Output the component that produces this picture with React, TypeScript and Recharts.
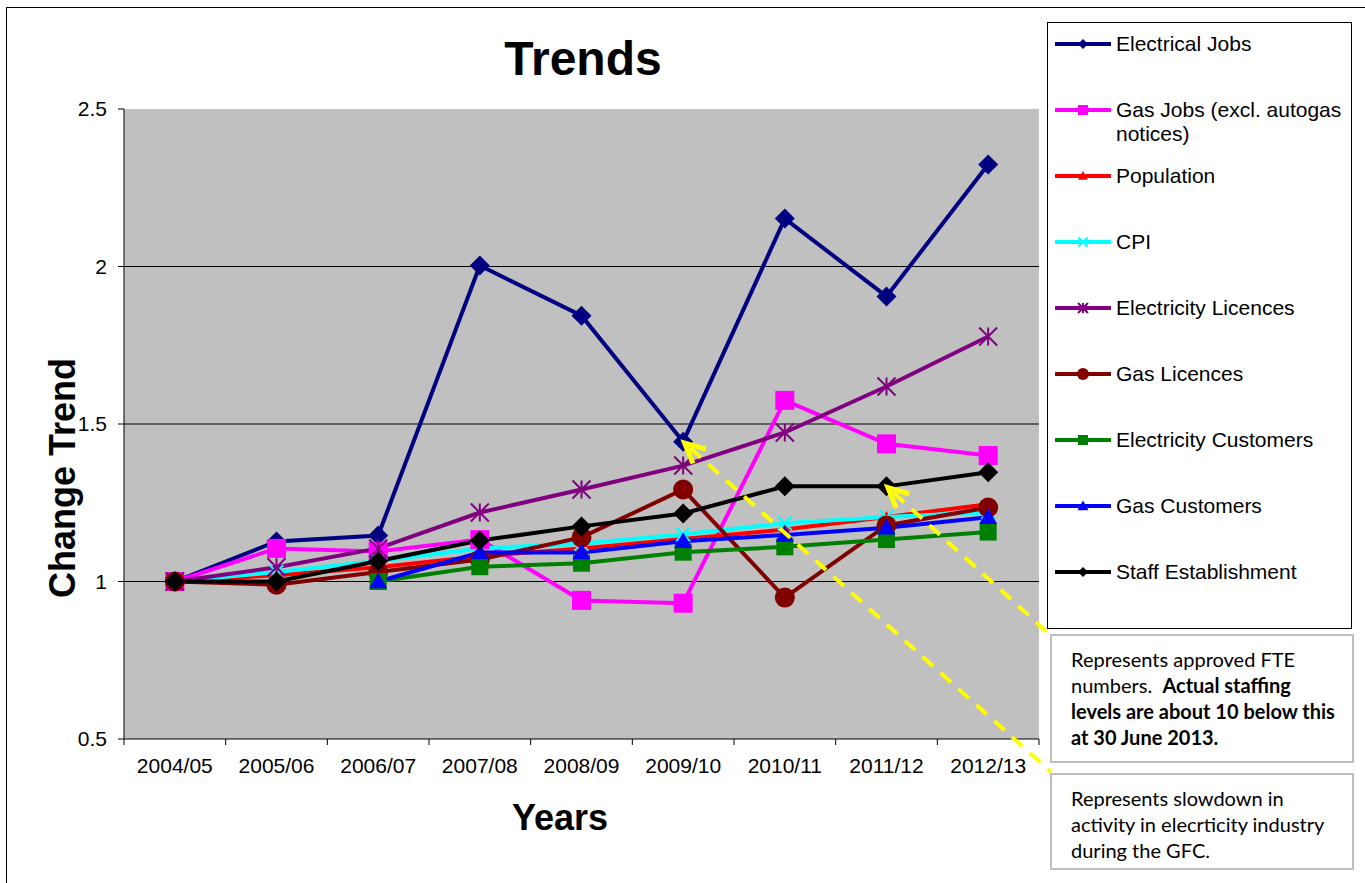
import React from "react";
import { LineChart, Line, XAxis, YAxis, CartesianGrid, ReferenceDot } from "recharts";

// categories and series (index relative to 2004/05 = 1)
const years = ["2004/05", "2005/06", "2006/07", "2007/08", "2008/09", "2009/10", "2010/11", "2011/12", "2012/13"];
const electricalJobs = [1.0, 1.127, 1.146, 2.003, 1.844, 1.444, 2.152, 1.905, 2.324];
const gasJobs = [1.0, 1.105, 1.095, 1.133, 0.94, 0.931, 1.575, 1.437, 1.4];
const population = [1.0, 1.02, 1.045, 1.08, 1.105, 1.135, 1.165, 1.205, 1.245];
const cpi = [1.0, 1.03, 1.065, 1.105, 1.12, 1.15, 1.185, 1.205, 1.22];
const electricityLicences = [1.0, 1.045, 1.105, 1.219, 1.292, 1.368, 1.473, 1.619, 1.778];
const gasLicences = [1.0, 0.99, 1.03, 1.07, 1.14, 1.292, 0.949, 1.178, 1.235];
const electricityCustomers = [null, null, 1.0, 1.047, 1.058, 1.093, 1.11, 1.133, 1.157];
const gasCustomers = [null, null, 1.0, 1.092, 1.092, 1.128, 1.148, 1.171, 1.204];
const staffEstablishment = [1.0, 1.0, 1.065, 1.13, 1.175, 1.216, 1.302, 1.302, 1.347];
const yTicks = [0.5, 1, 1.5, 2, 2.5];

type MarkerKind = "diamond" | "square" | "triangle" | "cross" | "star" | "circle";

const series: {
  key: string;
  name: string;
  values: (number | null)[];
  color: string;
  marker: MarkerKind;
  size: number;
  legendSize: number;
}[] = [
  { key: "electricalJobs", name: "Electrical Jobs", values: electricalJobs, color: "#000080", marker: "diamond", size: 20, legendSize: 10 },
  { key: "gasJobs", name: "Gas Jobs (excl. autogas notices)", values: gasJobs, color: "#FF00FF", marker: "square", size: 19, legendSize: 10 },
  { key: "population", name: "Population", values: population, color: "#FF0000", marker: "triangle", size: 12, legendSize: 10 },
  { key: "cpi", name: "CPI", values: cpi, color: "#00FFFF", marker: "cross", size: 14, legendSize: 9 },
  { key: "electricityLicences", name: "Electricity Licences", values: electricityLicences, color: "#800080", marker: "star", size: 18, legendSize: 10 },
  { key: "gasLicences", name: "Gas Licences", values: gasLicences, color: "#800000", marker: "circle", size: 20, legendSize: 12 },
  { key: "electricityCustomers", name: "Electricity Customers", values: electricityCustomers, color: "#008000", marker: "square", size: 17, legendSize: 10 },
  { key: "gasCustomers", name: "Gas Customers", values: gasCustomers, color: "#0000FF", marker: "triangle", size: 18, legendSize: 11 },
  { key: "staffEstablishment", name: "Staff Establishment", values: staffEstablishment, color: "#000000", marker: "diamond", size: 20, legendSize: 10 },
];

const data = years.map((year, i) => {
  const row: Record<string, string | number | null> = { year };
  series.forEach((s) => {
    row[s.key] = s.values[i];
  });
  return row;
});

const FONT = "'Liberation Sans', Arial, sans-serif";
const PLOT_LEFT = 124;
const PLOT_RIGHT = 1039;
const HALF_BAND = (PLOT_RIGHT - PLOT_LEFT) / years.length / 2;

function Marker({ kind, cx, cy, size, color }: { kind: MarkerKind; cx: number; cy: number; size: number; color: string }) {
  const r = size / 2;
  switch (kind) {
    case "diamond":
      return <polygon points={`${cx},${cy - r} ${cx + r},${cy} ${cx},${cy + r} ${cx - r},${cy}`} fill={color} />;
    case "square":
      return <rect x={cx - r} y={cy - r} width={size} height={size} fill={color} />;
    case "triangle":
      return <polygon points={`${cx},${cy - r} ${cx + r},${cy + r * 0.75} ${cx - r},${cy + r * 0.75}`} fill={color} />;
    case "cross":
      return (
        <path d={`M${cx - r},${cy - r}L${cx + r},${cy + r}M${cx - r},${cy + r}L${cx + r},${cy - r}`} stroke={color} strokeWidth={2} />
      );
    case "star":
      return (
        <path
          d={`M${cx - r},${cy - r}L${cx + r},${cy + r}M${cx - r},${cy + r}L${cx + r},${cy - r}M${cx},${cy - r}L${cx},${cy + r}`}
          stroke={color}
          strokeWidth={2}
        />
      );
    default:
      return <circle cx={cx} cy={cy} r={r} fill={color} />;
  }
}

// year label with tick marks on the band edges
function YearTick(props: any) {
  const { x, y, payload, index } = props;
  const axisY = y - 19;
  return (
    <g>
      <line x1={x - HALF_BAND} y1={axisY} x2={x - HALF_BAND} y2={axisY + 6} stroke="#000" />
      {index === years.length - 1 && <line x1={x + HALF_BAND} y1={axisY} x2={x + HALF_BAND} y2={axisY + 6} stroke="#000" />}
      <text x={x} y={y} dy="0.71em" textAnchor="middle" fontSize={21} fill="#000" fontFamily={FONT}>
        {payload.value}
      </text>
    </g>
  );
}

// yellow dashed pointer from a callout box corner to a data point
function pointer(toX: number, toY: number) {
  return (p: any) => {
    const { cx, cy } = p;
    const ang = Math.atan2(toY - cy, toX - cx);
    const tipX = cx + 2 * Math.cos(ang);
    const tipY = cy + 2 * Math.sin(ang);
    const len = 22;
    const spread = 0.45;
    const a1x = tipX + len * Math.cos(ang - spread);
    const a1y = tipY + len * Math.sin(ang - spread);
    const a2x = tipX + len * Math.cos(ang + spread);
    const a2y = tipY + len * Math.sin(ang + spread);
    return (
      <g>
        <line x1={tipX + 8 * Math.cos(ang)} y1={tipY + 8 * Math.sin(ang)} x2={toX} y2={toY} stroke="#FFFF00" strokeWidth={4} strokeDasharray="14 10" />
        <path d={`M${a1x},${a1y}L${tipX},${tipY}L${a2x},${a2y}`} fill="none" stroke="#FFFF00" strokeWidth={5} />
      </g>
    );
  };
}

function LegendBox() {
  return (
    <div
      style={{
        position: "absolute",
        left: 1047,
        top: 22,
        width: 303,
        height: 596,
        border: "1px solid #000",
        background: "#fff",
        paddingTop: 9,
        boxSizing: "content-box",
        fontFamily: FONT,
        fontSize: 21,
      }}
    >
      {series.map((s) => (
        <div key={s.key} style={{ display: "flex", alignItems: "flex-start", height: 24, marginBottom: 42, paddingLeft: 7 }}>
          <svg width={56} height={24} style={{ flex: "none" }}>
            <line x1={1} y1={12} x2={55} y2={12} stroke={s.color} strokeWidth={4} strokeLinecap="round" />
            <Marker kind={s.marker} cx={28} cy={12} size={s.legendSize} color={s.color} />
          </svg>
          <div style={{ marginLeft: 5, width: 234, lineHeight: "24px", color: "#000" }}>{s.name}</div>
        </div>
      ))}
    </div>
  );
}

const calloutStyle: React.CSSProperties = {
  position: "absolute",
  left: 1050,
  width: 304,
  border: "2px solid #BEBEBE",
  background: "#fff",
  boxSizing: "border-box",
  paddingLeft: 19,
  paddingTop: 10,
  fontFamily: "Lato, 'Open Sans', sans-serif",
  fontSize: 20,
  lineHeight: "26px",
  color: "#000",
  whiteSpace: "nowrap",
};

export default function App() {
  return (
    <div style={{ position: "fixed", left: 0, top: 0, width: 1365, height: 883, overflow: "hidden", background: "#fff", fontFamily: FONT }}>
      <div style={{ position: "absolute", left: 6, top: 7, width: 1400, height: 900, border: "1.5px solid #000" }} />
      <div style={{ position: "absolute", left: 0, top: 0 }}>
        <LineChart width={1365} height={883} data={data} margin={{ top: 109, right: 1365 - PLOT_RIGHT, bottom: 104, left: PLOT_LEFT - 60 }}>
          <CartesianGrid fill="#C0C0C0" fillOpacity={1} stroke="#000" vertical={false} horizontalValues={[1, 1.5, 2]} />
          <XAxis
            dataKey="year"
            interval={0}
            padding={{ left: HALF_BAND, right: HALF_BAND }}
            tick={<YearTick />}
            tickLine={false}
            tickSize={0}
            tickMargin={19}
            height={40}
            stroke="#000"
          />
          <XAxis
            xAxisId="top"
            dataKey="year"
            orientation="top"
            height={0}
            tick={false}
            tickLine={false}
            stroke="#808080"
            strokeWidth={2}
          />
          <YAxis
            domain={[0.5, 2.5]}
            ticks={yTicks}
            tickFormatter={(v: number) => String(v)}
            tick={{ fontSize: 21, fill: "#000", fontFamily: FONT }}
            tickSize={6}
            tickMargin={11}
            width={60}
            stroke="#000"
          />
          <YAxis yAxisId="right" orientation="right" width={0} domain={[0.5, 2.5]} tick={false} tickLine={false} stroke="#808080" strokeWidth={2} />
          {series.map((s) => (
            <Line
              key={s.key}
              dataKey={s.key}
              name={s.name}
              type="linear"
              stroke={s.color}
              strokeWidth={4}
              isAnimationActive={false}
              activeDot={false}
              dot={(p: any) =>
                p.cy == null || p.value == null ? (
                  <g key={`${s.key}-${p.index}`} />
                ) : (
                  <g key={`${s.key}-${p.index}`}>
                    <Marker kind={s.marker} cx={p.cx} cy={p.cy} size={s.size} color={s.color} />
                  </g>
                )
              }
            />
          ))}
          <ReferenceDot x="2011/12" y={staffEstablishment[7]} ifOverflow="visible" shape={pointer(1047, 632)} />
          <ReferenceDot x="2009/10" y={electricalJobs[5]} ifOverflow="visible" shape={pointer(1051, 772)} />
        </LineChart>
      </div>
      <div style={{ position: "absolute", left: 383, top: 35, width: 400, textAlign: "center", fontSize: 48, fontWeight: "bold", lineHeight: 1 }}>
        Trends
      </div>
      <div style={{ position: "absolute", left: 360, top: 800, width: 400, textAlign: "center", fontSize: 36, fontWeight: "bold", lineHeight: 1 }}>
        Years
      </div>
      <div
        style={{
          position: "absolute",
          left: 63,
          top: 478,
          transform: "translate(-50%, -50%) rotate(-90deg)",
          fontSize: 36,
          fontWeight: "bold",
          lineHeight: 1,
          whiteSpace: "nowrap",
        }}
      >
        Change Trend
      </div>
      <LegendBox />
      <div style={{ ...calloutStyle, top: 634, height: 129 }}>
        <div>Represents approved FTE</div>
        <div>
          numbers.{"\u00a0 "}
          <b>Actual staffing</b>
        </div>
        <div>
          <b>levels are about 10 below this</b>
        </div>
        <div>
          <b>at 30 June 2013.</b>
        </div>
      </div>
      <div style={{ ...calloutStyle, top: 773, height: 97 }}>
        <div>Represents slowdown in</div>
        <div>activity in elecrticity industry</div>
        <div>during the GFC.</div>
      </div>
    </div>
  );
}
